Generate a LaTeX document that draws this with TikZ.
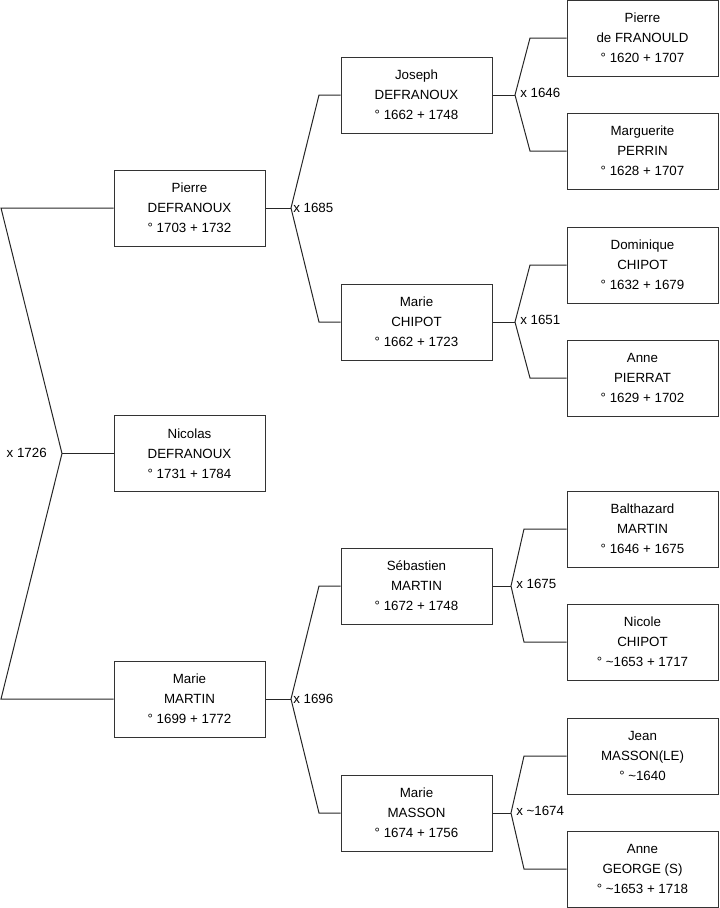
\documentclass[tikz,border=0pt]{standalone}
\usepackage{fontspec}
\setmainfont{Liberation Sans}
\begin{document}
\begin{tikzpicture}[x=0.75pt,y=-0.75pt,
  person/.style={draw=black!80, line width=0.75pt, minimum width=151*0.75pt, minimum height=76*0.75pt,
    inner sep=0pt, align=center, font=\fontsize{10}{15}\selectfont},
  link/.style={draw=black!85, line width=0.75pt},
  lbl/.style={font=\fontsize{10}{12}\selectfont, inner sep=0pt}]
\useasboundingbox (0,0) rectangle (719,908);
% generation 1
\node[person] (p1) at (189.5,208) {Pierre\\DEFRANOUX\\° 1703 + 1732};
\node[person] (n1) at (189.5,453.5) {Nicolas\\DEFRANOUX\\° 1731 + 1784};
\node[person] (m1) at (189.5,699) {Marie\\MARTIN\\° 1699 + 1772};
% generation 2
\node[person] (jos) at (416.5,95) {Joseph\\DEFRANOUX\\° 1662 + 1748};
\node[person] (mch) at (416.5,322) {Marie\\CHIPOT\\° 1662 + 1723};
\node[person] (seb) at (416.5,586) {Sébastien\\MARTIN\\° 1672 + 1748};
\node[person] (mma) at (416.5,813) {Marie\\MASSON\\° 1674 + 1756};
% generation 3
\node[person] (pfr) at (642.5,38) {Pierre\\de FRANOULD\\° 1620 + 1707};
\node[person] (mpe) at (642.5,151) {Marguerite\\PERRIN\\° 1628 + 1707};
\node[person] (dch) at (642.5,265) {Dominique\\CHIPOT\\° 1632 + 1679};
\node[person] (api) at (642.5,378) {Anne\\PIERRAT\\° 1629 + 1702};
\node[person] (bma) at (642.5,529) {Balthazard\\MARTIN\\° 1646 + 1675};
\node[person] (nch) at (642.5,642) {Nicole\\CHIPOT\\° \textasciitilde1653 + 1717};
\node[person] (jma) at (642.5,756) {Jean\\MASSON(LE)\\° \textasciitilde1640};
\node[person] (age) at (642.5,869) {Anne\\GEORGE (S)\\° \textasciitilde1653 + 1718};
% junctions
\coordinate (j0) at (62,453.5);
\coordinate (a0) at (1,208);
\coordinate (b0) at (1,699);
\coordinate (j1) at (291,208);
\coordinate (a1) at (319,95);
\coordinate (b1) at (319,322);
\coordinate (j2) at (291,699);
\coordinate (a2) at (319,586);
\coordinate (b2) at (319,813);
\coordinate (j3) at (515,95);
\coordinate (a3) at (530,38);
\coordinate (b3) at (530,151);
\coordinate (j4) at (515,322);
\coordinate (a4) at (530,265);
\coordinate (b4) at (530,378);
\coordinate (j5) at (511,586);
\coordinate (a5) at (524,529);
\coordinate (b5) at (524,642);
\coordinate (j6) at (511,813);
\coordinate (a6) at (524,756);
\coordinate (b6) at (524,869);
% connectors
\draw[link] (p1.west) -- (a0) -- (j0) -- (b0) -- (m1.west);
\draw[link] (j0) -- (n1.west);
\draw[link] (p1.east) -- (j1);
\draw[link] (jos.west) -- (a1) -- (j1) -- (b1) -- (mch.west);
\draw[link] (m1.east) -- (j2);
\draw[link] (seb.west) -- (a2) -- (j2) -- (b2) -- (mma.west);
\draw[link] (jos.east) -- (j3);
\draw[link] (pfr.west) -- (a3) -- (j3) -- (b3) -- (mpe.west);
\draw[link] (mch.east) -- (j4);
\draw[link] (dch.west) -- (a4) -- (j4) -- (b4) -- (api.west);
\draw[link] (seb.east) -- (j5);
\draw[link] (bma.west) -- (a5) -- (j5) -- (b5) -- (nch.west);
\draw[link] (mma.east) -- (j6);
\draw[link] (jma.west) -- (a6) -- (j6) -- (b6) -- (age.west);
% marriage labels
\node[lbl, anchor=east] (x0) at (47,453) {x 1726};
\node[lbl, anchor=west] (x1) at (293,208) {x 1685};
\node[lbl, anchor=west] (x2) at (293,699) {x 1696};
\node[lbl, anchor=west] (x3) at (520,93) {x 1646};
\node[lbl, anchor=west] (x4) at (520,320) {x 1651};
\node[lbl, anchor=west] (x5) at (516,584) {x 1675};
\node[lbl, anchor=west] (x6) at (516,811) {x \textasciitilde1674};
\end{tikzpicture}
\end{document}
